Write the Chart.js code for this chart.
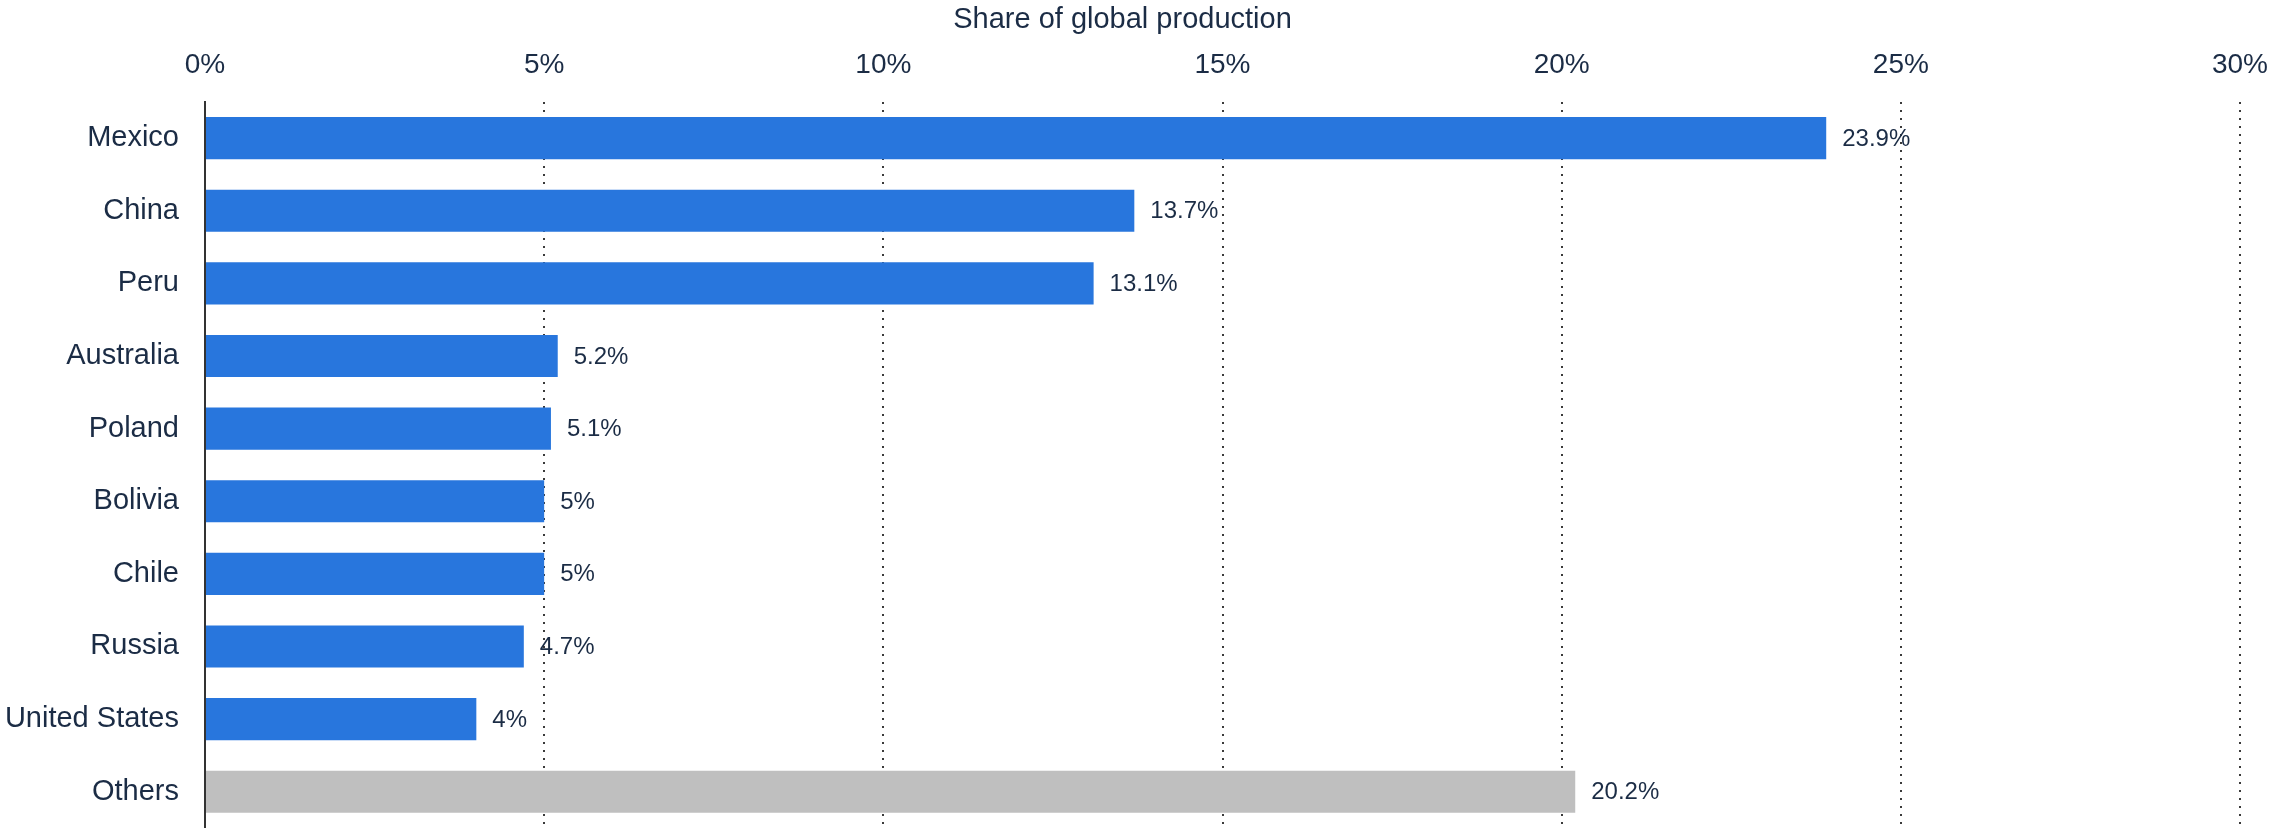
<!DOCTYPE html>
<html>
<head>
<meta charset="utf-8">
<script src="https://cdn.jsdelivr.net/npm/chart.js@4.4.1/dist/chart.umd.min.js"></script>
<style>
    html, body { margin: 0; padding: 0; background: #fff; }
    #wrap { width: 2272px; height: 828px; }
</style>
</head>
<body>
<div id="wrap"><canvas id="chart" width="2272" height="828"></canvas></div>
<script>
var countries = ['Mexico', 'China', 'Peru', 'Australia', 'Poland', 'Bolivia', 'Chile', 'Russia', 'United States', 'Others'];
var shares = [23.9, 13.7, 13.1, 5.2, 5.1, 5, 5, 4.7, 4, 20.2];
var barColors = ['#2876dd', '#2876dd', '#2876dd', '#2876dd', '#2876dd', '#2876dd', '#2876dd', '#2876dd', '#2876dd', '#bfbfbf'];
var axisTitle = 'Share of global production';

var textColor = '#1b2c45';
var fontFamily = '"Liberation Sans", Arial, sans-serif';

// value labels right of each bar
var valueLabels = {
    id: 'valueLabels',
    afterDatasetsDraw: function (chart) {
        var ctx = chart.ctx;
        var meta = chart.getDatasetMeta(0);
        ctx.save();
        ctx.font = '24px ' + fontFamily;
        ctx.fillStyle = textColor;
        ctx.textAlign = 'left';
        ctx.textBaseline = 'middle';
        meta.data.forEach(function (bar, i) {
            ctx.fillText(shares[i] + '%', bar.x + 16, bar.y + 1);
        });
        ctx.restore();
    }
};

// no extra room for overhanging tick labels
var noOverhang = function (scale) {
    scale.paddingLeft = 0;
    scale.paddingRight = 0;
    scale.paddingTop = 0;
    scale.paddingBottom = 0;
};

new Chart(document.getElementById('chart'), {
    type: 'bar',
    data: {
        labels: countries,
        datasets: [{
            data: shares,
            backgroundColor: barColors,
            borderWidth: 0,
            barPercentage: 0.58,
            categoryPercentage: 1
        }]
    },
    options: {
        indexAxis: 'y',
        responsive: false,
        animation: false,
        devicePixelRatio: 1,
        layout: { padding: { left: 5, right: 32, top: 0, bottom: 0 } },
        plugins: {
            legend: { display: false },
            tooltip: { enabled: false },
            title: {
                display: true,
                text: axisTitle,
                color: textColor,
                font: { family: fontFamily, size: 29, weight: 'normal' },
                padding: { top: 3, bottom: 8 }
            }
        },
        scales: {
            x: {
                position: 'top',
                min: 0,
                max: 30,
                afterFit: function (scale) {
                    noOverhang(scale);
                    scale.height = 56;
                },
                ticks: {
                    stepSize: 5,
                    padding: 20,
                    color: textColor,
                    font: { family: fontFamily, size: 28 },
                    callback: function (v) { return v + '%'; }
                },
                grid: {
                    drawTicks: false,
                    lineWidth: 2,
                    color: function (c) { return c.tick && c.tick.value === 0 ? 'rgba(0,0,0,0)' : '#3a3a3a'; }
                },
                border: { display: false, dash: [2, 6] }
            },
            y: {
                afterFit: function (scale) {
                    noOverhang(scale);
                    scale.width = 200;
                },
                ticks: {
                    padding: 26,
                    color: textColor,
                    font: { family: fontFamily, size: 29 }
                },
                grid: { display: false, drawTicks: false },
                border: { display: true, color: '#333', width: 2 }
            }
        }
    },
    plugins: [valueLabels]
});
</script>
</body>
</html>
